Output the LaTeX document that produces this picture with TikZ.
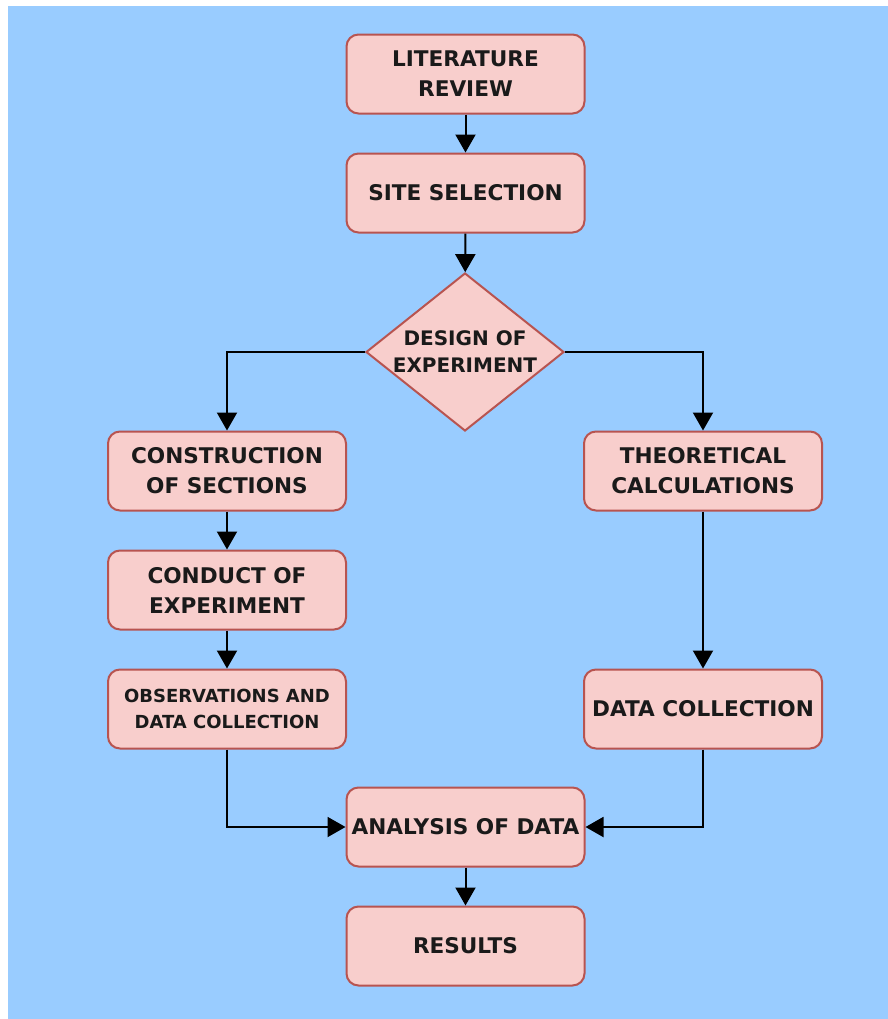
\documentclass[tikz,border=0pt]{standalone}
\usepackage{fontspec}
\setmainfont{DejaVu Sans}
\usetikzlibrary{arrows.meta,shapes.geometric}
\definecolor{bgblue}{HTML}{99CCFF}
\definecolor{boxfill}{HTML}{F8CECC}
\definecolor{boxline}{HTML}{B85450}
\definecolor{inkblack}{HTML}{1A1A1A}
\tikzset{
  stepbox/.style={draw=boxline, fill=boxfill, line width=1pt, rounded corners=6pt,
    minimum width=119pt, minimum height=39.5pt, inner xsep=1pt, align=center,
    text=inkblack, font=\fontsize{10.8}{15}\selectfont\bfseries},
  smallbox/.style={stepbox, font=\fontsize{9}{13}\selectfont\bfseries},
  choice/.style={diamond, draw=boxline, fill=boxfill, line width=1pt,
    minimum width=99pt, minimum height=79pt, inner sep=0pt, aspect=1.25,
    align=center, text=inkblack, font=\fontsize{10}{13.5}\selectfont\bfseries},
  flow/.style={line width=1pt, -{Triangle[width=10pt,length=9pt]}}
}

\begin{document}
\begin{tikzpicture}[x=0.5pt, y=-0.5pt]
    \useasboundingbox (0,0) rectangle (888,1019);
    \fill[bgblue] (8,6) rectangle (888,1019);

    \node[stepbox] (lit) at (465.5,74) {LITERATURE\\REVIEW};
    \node[stepbox] (site) at (465.5,193) {SITE SELECTION};
    \node[choice] (design) at (465,352) {DESIGN OF\\EXPERIMENT};
    \node[stepbox] (constr) at (227,471) {CONSTRUCTION\\OF SECTIONS};
    \node[stepbox] (theo) at (703,471) {THEORETICAL\\CALCULATIONS};
    \node[stepbox] (conduct) at (227,590) {CONDUCT OF\\EXPERIMENT};
    \node[smallbox] (obs) at (227,709) {OBSERVATIONS AND\\DATA COLLECTION};
    \node[stepbox] (datacol) at (703,709) {DATA COLLECTION};
    \node[stepbox] (analysis) at (465.5,827) {ANALYSIS OF DATA};
    \node[stepbox] (results) at (465.5,946) {RESULTS};

    \draw[flow] (lit) -- (site);
    \draw[flow] (site) -- (design);
    \draw[flow] (design.west) -| (constr);
    \draw[flow] (design.east) -| (theo);
    \draw[flow] (constr) -- (conduct);
    \draw[flow] (conduct) -- (obs);
    \draw[flow] (theo) -- (datacol);
    \draw[flow] (obs) |- (analysis);
    \draw[flow] (datacol) |- (analysis);
    \draw[flow] (analysis) -- (results);
\end{tikzpicture}
\end{document}
